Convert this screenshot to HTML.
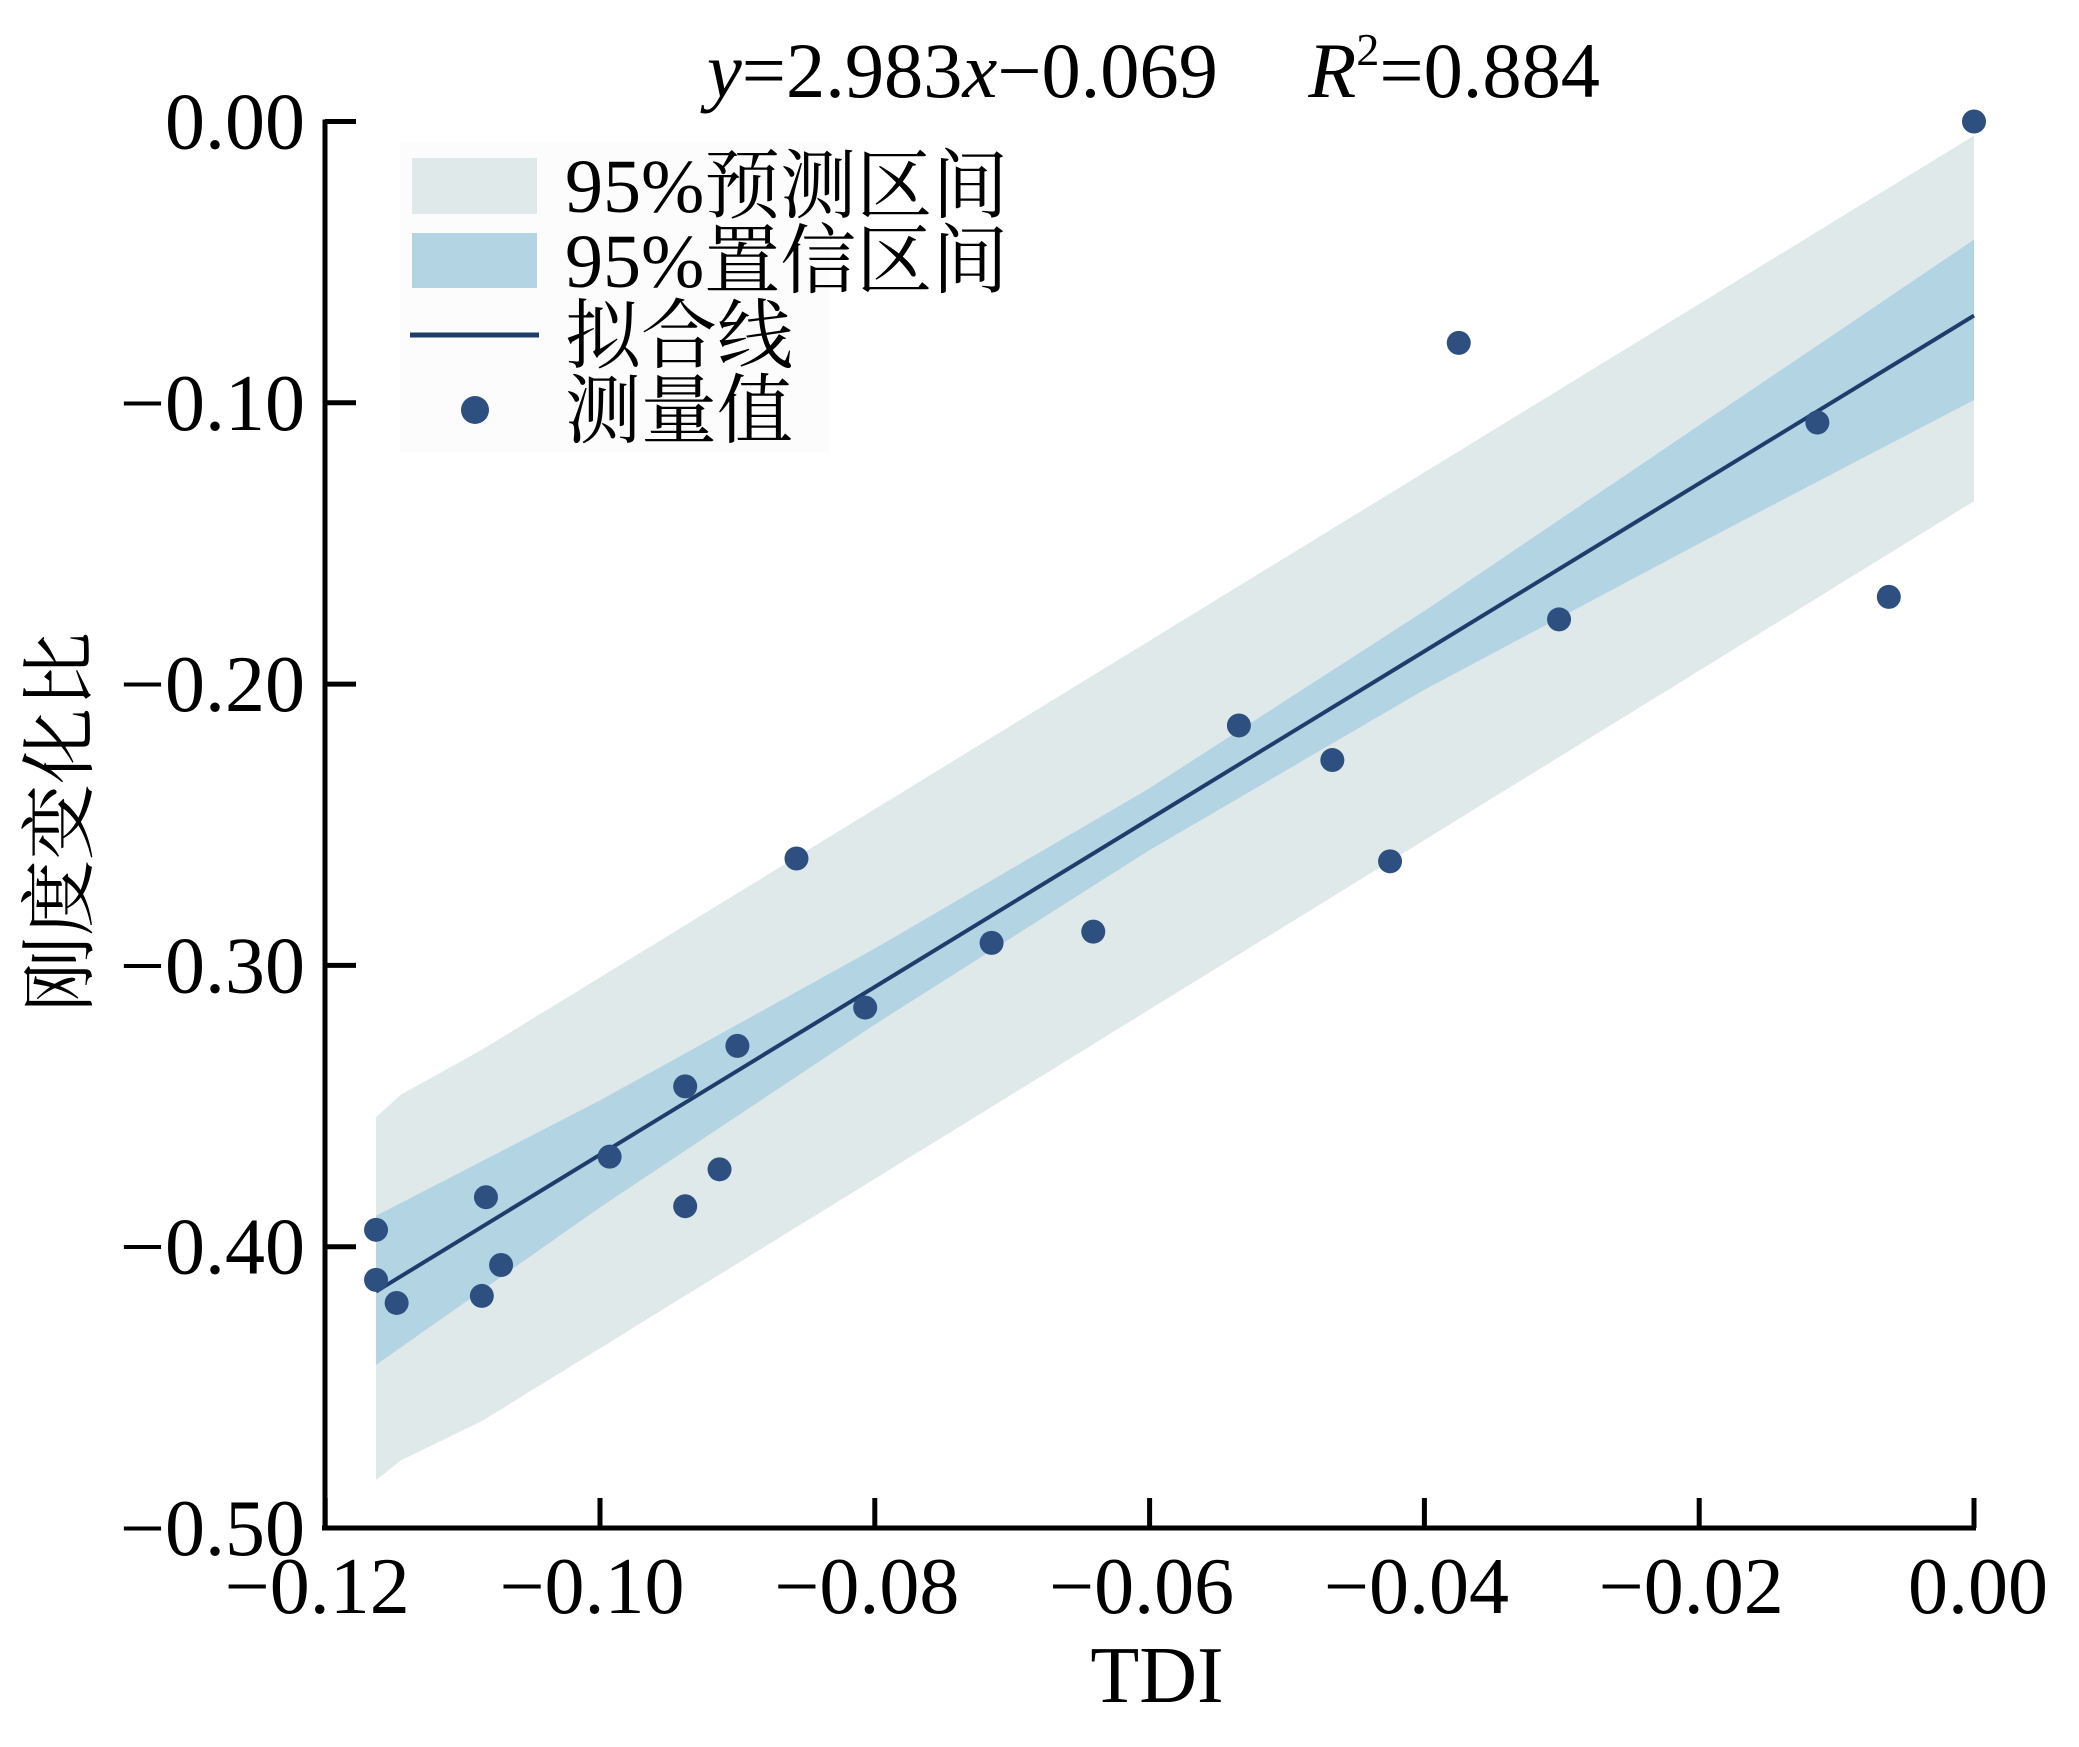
<!DOCTYPE html>
<html><head><meta charset="utf-8"><style>
html,body{margin:0;padding:0;background:#fff;}
svg{display:block;}
text{font-family:"Liberation Serif","Noto Serif CJK SC",serif;fill:#000;}
</style></head><body>
<svg id="chart" width="2079" height="1747" viewBox="0 0 2079 1747" xmlns="http://www.w3.org/2000/svg">
<g id="bands"></g>
<g id="marks"></g>
<g id="axes"></g>
<text x="707" y="97" font-size="78" textLength="893" lengthAdjust="spacingAndGlyphs"><tspan font-style="italic">y</tspan>=2.983<tspan font-style="italic">x</tspan>−0.069<tspan dx="90" font-style="italic">R</tspan><tspan font-size="46" dy="-32">2</tspan><tspan dy="32">=0.884</tspan></text>
<text x="1157" y="1702" font-size="80" text-anchor="middle">TDI</text>
<text transform="translate(86,822) rotate(-90)" font-size="76" text-anchor="middle" style="font-family:'Noto Serif CJK SC',serif">刚度变化比</text>
<g>
<rect x="400" y="142" width="430" height="310" fill="#fcfcfc"/>
<rect x="412" y="158" width="125" height="56" fill="#e0e9ea"/>
<rect x="412" y="233" width="125" height="55" fill="#b3d4e3"/>
<line x1="410" y1="335" x2="539" y2="335" stroke="#1f3d6b" stroke-width="5"/>
<circle cx="475" cy="410" r="14" fill="#2d5080"/>
<text x="565" y="212" font-size="76">95%预测区间</text>
<text x="565" y="287" font-size="76">95%置信区间</text>
<text x="565" y="362" font-size="76">拟合线</text>
<text x="565" y="437" font-size="76">测量值</text>
</g>
</svg>
<script>
const xTicks=[-0.12,-0.10,-0.08,-0.06,-0.04,-0.02,0.00];
const xTickLabels=["−0.12","−0.10","−0.08","−0.06","−0.04","−0.02","0.00"];
const yTicks=[0,-0.1,-0.2,-0.3,-0.4,-0.5];
const yTickLabels=["0.00","−0.10","−0.20","−0.30","−0.40","−0.50"];
const slope=2.983, intercept=-0.069;
const fitRange=[-0.1163,0];
const predX=[-0.1163,-0.1145,-0.1086,0];
const predUpper=[-0.354,-0.346,-0.330,-0.005];
const predLower=[-0.483,-0.476,-0.462,-0.135];
const confX=[-0.1163,-0.1,-0.08,-0.06,-0.04,-0.02,0];
const confUpper=[-0.389,-0.348,-0.294,-0.237,-0.174,-0.108,-0.042];
const confLower=[-0.442,-0.386,-0.321,-0.259,-0.202,-0.150,-0.099];
const ptX=[0,-0.0375,-0.0114,-0.0062,-0.0302,-0.0535,-0.0467,-0.0425,-0.0857,-0.0641,-0.0715,-0.0807,-0.0900,-0.0938,-0.0993,-0.0913,-0.0938,-0.1083,-0.1163,-0.1072,-0.1163,-0.1086,-0.1148];
const ptY=[0,-0.0787,-0.107,-0.169,-0.177,-0.2147,-0.227,-0.263,-0.262,-0.288,-0.292,-0.315,-0.3286,-0.343,-0.368,-0.3725,-0.3856,-0.3824,-0.394,-0.4065,-0.4118,-0.4175,-0.420];

const NS="http://www.w3.org/2000/svg";
const X=v=>1974+(v/0.02)*274.8;
const Y=v=>121.5-(v/0.1)*281.3;
function mk(tag,attrs,parent){const e=document.createElementNS(NS,tag);for(const k in attrs)e.setAttribute(k,attrs[k]);parent.appendChild(e);return e;}
const bands=document.getElementById('bands'),marks=document.getElementById('marks'),axes=document.getElementById('axes');
function bandPath(xs,up,lo){let d='';xs.forEach((x,i)=>{d+=(i?'L':'M')+X(x)+' '+Y(up[i]);});for(let i=xs.length-1;i>=0;i--)d+='L'+X(xs[i])+' '+Y(lo[i]);return d+'Z';}
const pb=mk('path',{d:bandPath(predX,predUpper,predLower),fill:'#e0e9ea'},bands);


const cb=mk('path',{d:bandPath(confX,confUpper,confLower),fill:'#b3d4e3'},bands);


const fl=mk('line',{x1:X(fitRange[0]),y1:Y(slope*fitRange[0]+intercept),x2:X(fitRange[1]),y2:Y(slope*fitRange[1]+intercept),stroke:'#1f3d6b','stroke-width':4},marks);


ptX.forEach((x,i)=>{const c=mk('circle',{cx:X(x),cy:Y(ptY[i]),r:12,fill:'#2d5080'},marks);

});
const ya=mk('line',{x1:325,y1:Y(0)-2,x2:325,y2:Y(-0.5)+2,stroke:'#000','stroke-width':5},axes);


const xa=mk('line',{x1:322,y1:Y(-0.5),x2:X(0)+2,y2:Y(-0.5),stroke:'#000','stroke-width':5},axes);


yTicks.forEach((v,i)=>{const t=mk('line',{x1:325,y1:Y(v),x2:356,y2:Y(v),stroke:'#000','stroke-width':5},axes);


const l=mk('text',{x:305,y:Y(v)+27,'font-size':80,'text-anchor':'end'},axes);l.textContent=yTickLabels[i];

});
xTicks.forEach((v,i)=>{const t=mk('line',{x1:X(v),y1:Y(-0.5),x2:X(v),y2:Y(-0.5)-30,stroke:'#000','stroke-width':5},axes);


const l=mk('text',{x:X(v)+(i==6?4:-8),y:1613,'font-size':80,'text-anchor':'middle'},axes);l.textContent=xTickLabels[i];

});
</script>
</body></html>
